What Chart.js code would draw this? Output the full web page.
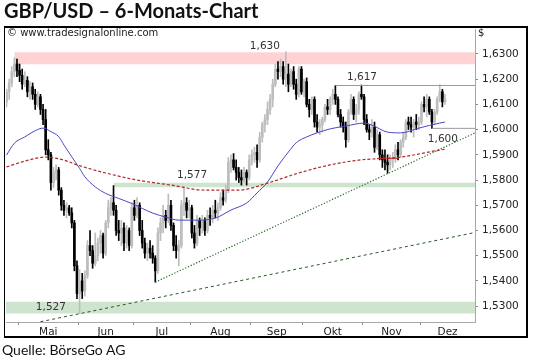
<!DOCTYPE html>
<html>
<head>
<meta charset="utf-8">
<script src="https://cdn.jsdelivr.net/npm/chart.js@4.4.1/dist/chart.umd.min.js"></script>
<style>
  body { margin: 0; background: #fff; }
  #wrap { position: relative; width: 540px; height: 362px; overflow: hidden; }
  #c { position: absolute; left: 0; top: 0; }
  #title { position: absolute; left: 4px; top: -2px; font: bold 20px Lato, sans-serif; color: #111; white-space: nowrap; }
  #frame { position: absolute; left: 4px; top: 26px; width: 524px; height: 312px; box-sizing: border-box;
           border-top: 2px solid #000; border-bottom: 2px solid #000; border-left: 1px solid #000; border-right: 2px solid #000; }
  #copy { position: absolute; left: 7px; top: 27px; font: 10px "DejaVu Sans", sans-serif; color: #222; }
  #cur { position: absolute; left: 478px; top: 27px; font: 10px "DejaVu Sans", sans-serif; color: #222; }
  #src { position: absolute; left: 2px; top: 341px; font: 14px Lato, sans-serif; color: #111; }
</style>
</head>
<body>
<div id="wrap">
  <canvas id="c" width="540" height="362"></canvas>
  <div id="frame"></div>
  <div id="title">GBP/USD – 6-Monats-Chart</div>
  <div id="copy">© www.tradesignalonline.com</div>
  <div id="cur">$</div>
  <div id="src">Quelle: BörseGo AG</div>
</div>
<script>
(() => {
  'use strict'

  // Handelstage
  const dates = [
    '2012-04-24','2012-04-25','2012-04-26','2012-04-27','2012-04-30',
    '2012-05-01','2012-05-02','2012-05-03','2012-05-04','2012-05-07','2012-05-08','2012-05-09','2012-05-10','2012-05-11',
    '2012-05-14','2012-05-15','2012-05-16','2012-05-17','2012-05-18','2012-05-21','2012-05-22','2012-05-23','2012-05-24',
    '2012-05-25','2012-05-28','2012-05-29','2012-05-30','2012-05-31',
    '2012-06-01','2012-06-04','2012-06-05','2012-06-06','2012-06-07','2012-06-08','2012-06-11','2012-06-12','2012-06-13',
    '2012-06-14','2012-06-15','2012-06-18','2012-06-19','2012-06-20','2012-06-21','2012-06-22','2012-06-25','2012-06-26',
    '2012-06-27','2012-06-28','2012-06-29',
    '2012-07-02','2012-07-03','2012-07-04','2012-07-05','2012-07-06','2012-07-09','2012-07-10','2012-07-11','2012-07-12',
    '2012-07-13','2012-07-16','2012-07-17','2012-07-18','2012-07-19','2012-07-20','2012-07-23','2012-07-24','2012-07-25',
    '2012-07-26','2012-07-27','2012-07-30','2012-07-31',
    '2012-08-01','2012-08-02','2012-08-03','2012-08-06','2012-08-07','2012-08-08','2012-08-09','2012-08-10','2012-08-13',
    '2012-08-14','2012-08-15','2012-08-16','2012-08-17','2012-08-20','2012-08-21','2012-08-22','2012-08-23','2012-08-24',
    '2012-08-27','2012-08-28','2012-08-29','2012-08-30','2012-08-31',
    '2012-09-03','2012-09-04','2012-09-05','2012-09-06','2012-09-07','2012-09-10','2012-09-11','2012-09-12','2012-09-13',
    '2012-09-14','2012-09-17','2012-09-18','2012-09-19','2012-09-20','2012-09-21','2012-09-24','2012-09-25','2012-09-26',
    '2012-09-27','2012-09-28',
    '2012-10-01','2012-10-02','2012-10-03','2012-10-04','2012-10-05','2012-10-08','2012-10-09','2012-10-10','2012-10-11',
    '2012-10-12','2012-10-15','2012-10-16','2012-10-17','2012-10-18','2012-10-19','2012-10-22','2012-10-23','2012-10-24',
    '2012-10-25','2012-10-26','2012-10-29','2012-10-30','2012-10-31',
    '2012-11-01','2012-11-02','2012-11-05','2012-11-06','2012-11-07','2012-11-08','2012-11-09','2012-11-12','2012-11-13',
    '2012-11-14','2012-11-15','2012-11-16','2012-11-19','2012-11-20','2012-11-21','2012-11-22','2012-11-23','2012-11-26',
    '2012-11-27','2012-11-28','2012-11-29','2012-11-30',
    '2012-12-03','2012-12-04','2012-12-05','2012-12-06','2012-12-07','2012-12-10','2012-12-11','2012-12-12','2012-12-13',
    '2012-12-14'
  ]

  // Kerzen (OHLC)
  const opens = [
    1.6110,1.6150,1.6185,1.6230,1.6260,1.6235,1.6215,1.6180,1.6195,1.6150,
    1.6170,1.6140,1.6100,1.6130,1.6080,1.6040,1.5920,1.5900,1.5790,1.5830,
    1.5840,1.5760,1.5700,1.5680,1.5690,1.5670,1.5630,1.5460,1.5350,1.5400,
    1.5360,1.5420,1.5540,1.5520,1.5470,1.5500,1.5550,1.5580,1.5510,1.5630,
    1.5690,1.5710,1.5680,1.5600,1.5590,1.5610,1.5550,1.5600,1.5540,1.5690,
    1.5660,1.5700,1.5600,1.5550,1.5510,1.5530,1.5510,1.5490,1.5440,1.5590,
    1.5630,1.5660,1.5640,1.5700,1.5620,1.5540,1.5520,1.5540,1.5700,1.5710,
    1.5680,1.5690,1.5590,1.5550,1.5640,1.5610,1.5640,1.5600,1.5660,1.5650,
    1.5680,1.5670,1.5690,1.5730,1.5720,1.5760,1.5870,1.5880,1.5850,1.5830,
    1.5810,1.5800,1.5830,1.5810,1.5880,1.5900,1.5910,1.5880,1.5970,1.6020,
    1.6040,1.6080,1.6120,1.6180,1.6240,1.6230,1.6250,1.6200,1.6220,1.6180,
    1.6230,1.6180,1.6140,1.6240,1.6150,1.6190,1.6100,1.6080,1.6120,1.6030,
    1.6010,1.6020,1.6040,1.6090,1.6080,1.6120,1.6140,1.6120,1.6060,1.6030,
    1.6010,1.5960,1.6070,1.6120,1.6060,1.6080,1.6140,1.6130,1.6040,1.6000,
    1.5990,1.6010,1.5930,1.5980,1.5900,1.5880,1.5870,1.5860,1.5880,1.5890,
    1.5920,1.5900,1.5950,1.5970,1.6030,1.6020,1.6010,1.6030,1.6020,1.6030,
    1.6100,1.6090,1.6120,1.6070,1.6030,1.6070,1.6120,1.6150,1.6110
  ]
  const highs = [
    1.6160,1.6200,1.6250,1.6285,1.6280,1.6260,1.6240,1.6230,1.6210,1.6190,
    1.6185,1.6160,1.6150,1.6140,1.6100,1.6080,1.5960,1.5910,1.5850,1.5860,
    1.5850,1.5770,1.5720,1.5710,1.5700,1.5690,1.5640,1.5480,1.5445,1.5430,
    1.5440,1.5560,1.5600,1.5540,1.5590,1.5570,1.5600,1.5590,1.5640,1.5720,
    1.5730,1.5778,1.5700,1.5640,1.5640,1.5630,1.5620,1.5610,1.5710,1.5720,
    1.5730,1.5710,1.5640,1.5570,1.5550,1.5560,1.5540,1.5500,1.5610,1.5650,
    1.5700,1.5680,1.5745,1.5720,1.5630,1.5580,1.5560,1.5720,1.5775,1.5730,
    1.5720,1.5700,1.5620,1.5660,1.5650,1.5660,1.5650,1.5680,1.5690,1.5700,
    1.5720,1.5710,1.5750,1.5760,1.5780,1.5890,1.5900,1.5905,1.5880,1.5850,
    1.5840,1.5850,1.5840,1.5900,1.5920,1.5930,1.5940,1.5990,1.6030,1.6060,
    1.6110,1.6140,1.6200,1.6260,1.6270,1.6280,1.6270,1.6309,1.6260,1.6240,
    1.6250,1.6200,1.6250,1.6250,1.6200,1.6205,1.6120,1.6130,1.6130,1.6060,
    1.6040,1.6050,1.6100,1.6120,1.6130,1.6160,1.6175,1.6130,1.6080,1.6050,
    1.6030,1.6080,1.6140,1.6130,1.6100,1.6150,1.6177,1.6140,1.6060,1.6020,
    1.6040,1.6030,1.6000,1.5990,1.5920,1.5920,1.5900,1.5900,1.5910,1.5940,
    1.5950,1.5960,1.5990,1.6040,1.6050,1.6050,1.6040,1.6060,1.6050,1.6110,
    1.6130,1.6140,1.6130,1.6080,1.6080,1.6130,1.6178,1.6160,1.6140
  ]
  const lows = [
    1.6090,1.6120,1.6170,1.6210,1.6210,1.6190,1.6160,1.6170,1.6130,1.6120,
    1.6120,1.6080,1.6090,1.6060,1.6020,1.5900,1.5880,1.5760,1.5770,1.5800,
    1.5740,1.5680,1.5660,1.5650,1.5660,1.5610,1.5440,1.5330,1.5270,1.5330,
    1.5340,1.5410,1.5500,1.5450,1.5460,1.5480,1.5510,1.5490,1.5500,1.5610,
    1.5660,1.5660,1.5580,1.5560,1.5540,1.5520,1.5530,1.5520,1.5530,1.5640,
    1.5650,1.5580,1.5530,1.5490,1.5480,1.5490,1.5470,1.5395,1.5430,1.5560,
    1.5590,1.5610,1.5630,1.5600,1.5520,1.5490,1.5460,1.5530,1.5660,1.5650,
    1.5650,1.5570,1.5530,1.5540,1.5580,1.5590,1.5580,1.5590,1.5620,1.5630,
    1.5650,1.5640,1.5680,1.5700,1.5710,1.5750,1.5830,1.5840,1.5800,1.5790,
    1.5780,1.5790,1.5780,1.5800,1.5860,1.5870,1.5850,1.5870,1.5950,1.5990,
    1.6020,1.6060,1.6090,1.6170,1.6200,1.6210,1.6180,1.6170,1.6150,1.6170,
    1.6160,1.6120,1.6130,1.6140,1.6130,1.6090,1.6050,1.6060,1.6010,1.5990,
    1.5980,1.5990,1.6030,1.6060,1.6060,1.6100,1.6100,1.6050,1.6010,1.5990,
    1.5930,1.5950,1.6060,1.6040,1.6030,1.6060,1.6120,1.6020,1.5990,1.5960,
    1.5970,1.5910,1.5920,1.5880,1.5850,1.5840,1.5827,1.5840,1.5850,1.5870,
    1.5880,1.5890,1.5930,1.5960,1.6000,1.5990,1.5970,1.6000,1.6000,1.6020,
    1.6070,1.6050,1.6060,1.6005,1.6020,1.6060,1.6110,1.6090,1.6100
  ]
  const closes = [
    1.6150,1.6185,1.6230,1.6260,1.6235,1.6215,1.6180,1.6195,1.6150,1.6170,
    1.6140,1.6100,1.6130,1.6080,1.6040,1.5920,1.5900,1.5790,1.5830,1.5840,
    1.5760,1.5700,1.5680,1.5690,1.5670,1.5630,1.5460,1.5350,1.5400,1.5360,
    1.5420,1.5540,1.5520,1.5470,1.5500,1.5550,1.5580,1.5510,1.5630,1.5690,
    1.5710,1.5680,1.5600,1.5590,1.5610,1.5550,1.5600,1.5540,1.5690,1.5660,
    1.5700,1.5600,1.5550,1.5510,1.5530,1.5510,1.5490,1.5440,1.5590,1.5630,
    1.5660,1.5640,1.5700,1.5620,1.5540,1.5520,1.5540,1.5700,1.5710,1.5680,
    1.5690,1.5590,1.5550,1.5640,1.5610,1.5640,1.5600,1.5660,1.5650,1.5680,
    1.5670,1.5690,1.5730,1.5720,1.5760,1.5870,1.5880,1.5850,1.5830,1.5810,
    1.5800,1.5830,1.5810,1.5880,1.5900,1.5910,1.5880,1.5970,1.6020,1.6040,
    1.6080,1.6120,1.6180,1.6240,1.6230,1.6250,1.6200,1.6220,1.6180,1.6230,
    1.6180,1.6140,1.6240,1.6150,1.6190,1.6100,1.6080,1.6120,1.6030,1.6010,
    1.6020,1.6040,1.6090,1.6080,1.6120,1.6140,1.6120,1.6060,1.6030,1.6010,
    1.5960,1.6070,1.6120,1.6060,1.6080,1.6140,1.6130,1.6040,1.6000,1.5990,
    1.6010,1.5930,1.5980,1.5900,1.5880,1.5870,1.5860,1.5880,1.5890,1.5920,
    1.5900,1.5950,1.5970,1.6030,1.6020,1.6010,1.6030,1.6020,1.6030,1.6100,
    1.6090,1.6120,1.6070,1.6030,1.6070,1.6120,1.6150,1.6110,1.6120
  ]

  // Gleitende Durchschnitte (Tag-Index, Kurs)
  const ma50Days = [0, 3, 7, 11, 14, 17, 20, 22, 25, 28, 30, 34, 38, 43, 48, 56, 61, 66, 73, 80, 86, 92, 96, 100, 104, 108, 111, 115, 119, 124, 130, 137, 140, 146, 151, 158, 166, 168]
  const ma50Vals = [1.5899, 1.5946, 1.5971, 1.5996, 1.6006, 1.5992, 1.5972, 1.5939, 1.5892, 1.5846, 1.5813, 1.5773, 1.5747, 1.5727, 1.5707, 1.5669, 1.5653, 1.5641, 1.5641, 1.5649, 1.5681, 1.5709, 1.5749, 1.5792, 1.5856, 1.5911, 1.5948, 1.5971, 1.5987, 1.6003, 1.6014, 1.6026, 1.6018, 1.5990, 1.5987, 1.6006, 1.6026, 1.6030]
  const ma200Days = [0, 7, 15, 22, 27, 38, 50, 63, 76, 89, 100, 112, 124, 135, 151, 166, 168]
  const ma200Vals = [1.5852, 1.5875, 1.5891, 1.5879, 1.5860, 1.5828, 1.5800, 1.5780, 1.5760, 1.5760, 1.5788, 1.5828, 1.5860, 1.5879, 1.5891, 1.5919, 1.5922]

  // Zonen, Trendlinien, Marken
  const zone1630 = [1.6259, 1.6307]
  const zone1577 = [1.5771, 1.5789]
  const zone1527 = [1.5271, 1.5317]
  const trendShortDays = [57, 179.5]
  const trendShortVals = [1.5395, 1.5987]
  const trendLongDays = [13, 179.5]
  const trendLongVals = [1.5238, 1.5592]
  const level1617 = 1.6175
  const level1600 = 1.6005
  const level1588 = 1.5886

  const yTicks = [1.53, 1.54, 1.55, 1.56, 1.57, 1.58, 1.59, 1.60, 1.61, 1.62, 1.63]
  const monthNames = { 5: 'Mai', 6: 'Jun', 7: 'Jul', 8: 'Aug', 9: 'Sep', 10: 'Okt', 11: 'Nov', 12: 'Dez' }

  const notes = [
    { text: '1,630', day: 99, val: 1.6332 },
    { text: '1,617', day: 136.2, val: 1.6207 },
    { text: '1,577', day: 71.1, val: 1.5818 },
    { text: '1,600', day: 167.2, val: 1.5963 },
    { text: '1,527', day: 17, val: 1.5296 }
  ]

  const xMin = -0.2
  const xMax = 179.5
  const tickFont = { family: 'DejaVu Sans', size: 10.5 }

  // Monatsgrenzen und Beschriftungen aus den Daten
  const bounds = []
  for (let i = 1; i < dates.length; i++) {
    if (dates[i].slice(5, 7) !== dates[i - 1].slice(5, 7)) {
      bounds.push({ value: i - 0.5, month: +dates[i].slice(5, 7) })
    }
  }
  const xTicks = []
  bounds.forEach((b, k) => {
    xTicks.push({ value: b.value, label: '' })
    const end = k + 1 < bounds.length ? bounds[k + 1].value : xMax
    if (monthNames[b.month]) xTicks.push({ value: (b.value + end) / 2, label: monthNames[b.month] })
  })
  xTicks.sort((a, b) => a.value - b.value)

  const idx = dates.map((d, i) => i)
  const upColor = '#bdbdbd'
  const downColor = '#000000'
  const candleColor = (c) => closes[c.dataIndex] >= opens[c.dataIndex] ? upColor : downColor

  const flat = (from, to, v) => [{ x: from, y: v }, { x: to, y: v }]
  const pairs = (xs, ys) => xs.map((x, i) => ({ x, y: ys[i] }))

  const lineBase = { type: 'line', pointRadius: 0, borderWidth: 1, fill: false, tension: 0 }

  const datasets = [
    // Zonen
    { ...lineBase, data: flat(3, xMax, zone1630[1]), borderWidth: 0, backgroundColor: '#ffd3d3', fill: '+1', order: 9 },
    { ...lineBase, data: flat(3, xMax, zone1630[0]), borderWidth: 0, order: 9 },
    { ...lineBase, data: flat(41, xMax, zone1577[1]), borderWidth: 0, backgroundColor: '#cfe4cf', fill: '+1', order: 9 },
    { ...lineBase, data: flat(41, xMax, zone1577[0]), borderWidth: 0, order: 9 },
    { ...lineBase, data: flat(xMin, xMax, zone1527[1]), borderWidth: 0, backgroundColor: '#cfe4cf', fill: '+1', order: 9 },
    { ...lineBase, data: flat(xMin, xMax, zone1527[0]), borderWidth: 0, order: 9 },
    // Kerzen
    {
      type: 'bar', data: idx.map(i => ({ x: i, y: [lows[i], highs[i]] })),
      backgroundColor: candleColor, barThickness: 1, grouped: false, order: 5
    },
    {
      type: 'bar', data: idx.map(i => ({ x: i, y: [opens[i], closes[i]] })),
      backgroundColor: candleColor, barThickness: 2, grouped: false, order: 5
    },
    // Linien
    { ...lineBase, data: flat(126, xMax, level1617), borderColor: '#9a9a9a', order: 2 },
    { ...lineBase, data: flat(163, xMax, level1600), borderColor: '#9a9a9a', order: 2 },
    { ...lineBase, data: flat(142, 150, level1588), borderColor: '#c62828', order: 2 },
    { ...lineBase, data: pairs(ma200Days, ma200Vals), borderColor: '#b3262a', borderWidth: 1.2, borderDash: [3, 2], cubicInterpolationMode: 'monotone', order: 1 },
    { ...lineBase, data: pairs(ma50Days, ma50Vals), borderColor: '#4a48c4', cubicInterpolationMode: 'monotone', order: 1 },
    { ...lineBase, data: pairs(trendShortDays, trendShortVals), borderColor: '#1f6a22', borderWidth: 1.2, borderDash: [1.2, 1.8], order: 1 },
    { ...lineBase, data: pairs(trendLongDays, trendLongVals), borderColor: '#245a24', borderDash: [3, 3], order: 1 }
  ]

  // Kursmarken als Text
  const notesPlugin = {
    id: 'notes',
    afterDatasetsDraw(chart) {
      const { ctx, scales } = chart
      ctx.save()
      ctx.font = '10.5px "DejaVu Sans"'
      ctx.fillStyle = '#333'
      ctx.textAlign = 'center'
      ctx.textBaseline = 'middle'
      notes.forEach(n => ctx.fillText(n.text, scales.x.getPixelForValue(n.day), scales.y.getPixelForValue(n.val)))
      ctx.restore()
    }
  }

  new Chart(document.getElementById('c'), {
    type: 'bar',
    data: { datasets },
    options: {
      responsive: false,
      animation: false,
      layout: { padding: { left: 6, right: 12, top: 29, bottom: 25 } },
      plugins: { legend: { display: false }, tooltip: { enabled: false } },
      scales: {
        x: {
          type: 'linear', min: xMin, max: xMax, offset: false,
          afterFit: (s) => { s.height = 15 },
          afterBuildTicks: (s) => { s.ticks = xTicks.map(t => ({ value: t.value })) },
          ticks: {
            autoSkip: false, maxRotation: 0, padding: 1, font: tickFont, color: '#222',
            callback: (v, i) => xTicks[i] ? xTicks[i].label : ''
          },
          grid: {
            offset: false, drawOnChartArea: false, tickLength: 3,
            tickColor: (c) => (xTicks[c.index] && xTicks[c.index].label) ? 'rgba(0,0,0,0)' : '#888'
          },
          border: { display: true, color: '#a8a8a8' }
        },
        y: {
          position: 'right', min: 1.5237, max: 1.6399,
          afterFit: (s) => { s.width = 53 },
          afterBuildTicks: (s) => { s.ticks = yTicks.map(v => ({ value: v })) },
          ticks: {
            padding: 4, font: tickFont, color: '#222',
            callback: (v) => v.toFixed(4).replace('.', ',')
          },
          grid: { drawOnChartArea: false, tickLength: 3, tickColor: '#888' },
          border: { display: true, color: '#a8a8a8' }
        }
      }
    },
    plugins: [notesPlugin]
  })
})()
</script>
</body>
</html>
